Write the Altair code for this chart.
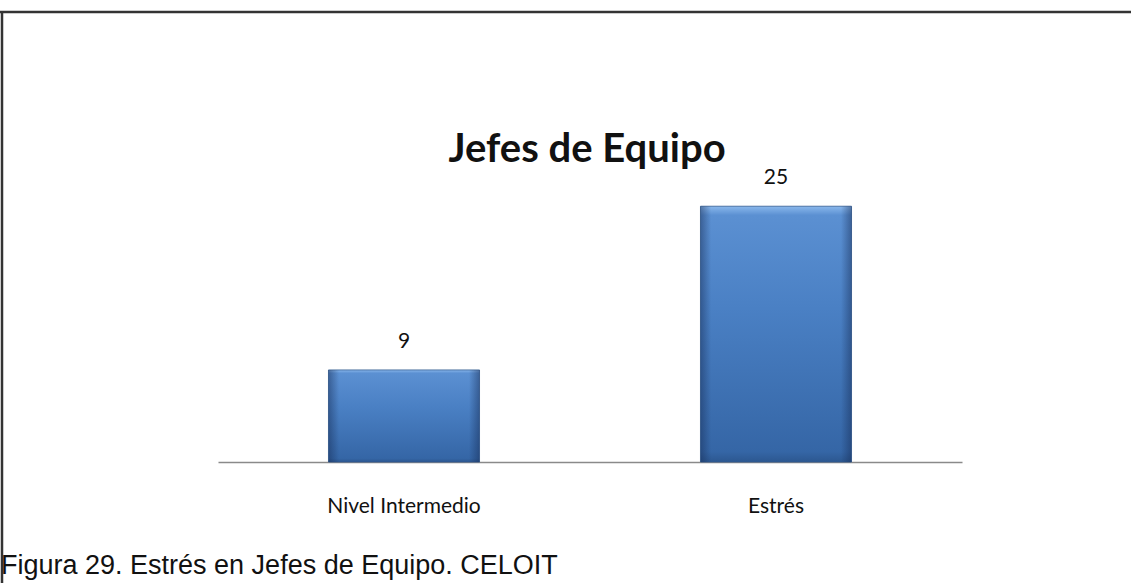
import altair as alt
import pandas as pd

categories = ["Nivel Intermedio", "Estrés"]
values = [9, 25]
title_text = "Jefes de Equipo"
caption_text = "Figura 29. Estrés en Jefes de Equipo. CELOIT"

df = pd.DataFrame({"cat": categories, "val": values})

W, H = 744, 266
PL, PT, PR, PB = 218, 196, 1131 - 218 - 744, 583 - 196 - 266

x = alt.X("cat:N", sort=categories, title=None,
          scale=alt.Scale(paddingInner=0.594, paddingOuter=0.297),
          axis=alt.Axis(labelAngle=0, ticks=False, labelPadding=33,
                        labelFont="Lato", labelFontSize=21, labelColor="#111",
                        domainColor="#8a8a8a", domainWidth=1.5, grid=False))
y = alt.Y("val:Q", title=None, scale=alt.Scale(domain=[0, 26], nice=False),
          axis=None)

vgrad = alt.Gradient(gradient="linear", x1=0, x2=0, y1=0, y2=1, stops=[
    alt.GradientStop(offset=0, color="#8ab8ec"),
    alt.GradientStop(offset=0.035, color="#5b90d2"),
    alt.GradientStop(offset=0.4, color="#4a80c4"),
    alt.GradientStop(offset=0.96, color="#3566a6"),
    alt.GradientStop(offset=1, color="#2c5790"),
])
hgrad = alt.Gradient(gradient="linear", x1=0, x2=1, y1=0, y2=0, stops=[
    alt.GradientStop(offset=0, color="rgba(20,40,80,0.45)"),
    alt.GradientStop(offset=0.07, color="rgba(20,40,80,0)"),
    alt.GradientStop(offset=0.93, color="rgba(20,40,80,0)"),
    alt.GradientStop(offset=1, color="rgba(20,40,80,0.45)"),
])

base = alt.Chart(df)
bars = base.mark_bar(color=vgrad, stroke="#30598f", strokeWidth=0.8).encode(x=x, y=y)
shade = base.mark_bar(color=hgrad).encode(x=x, y=y)
labels = base.mark_text(dy=-22, font="Lato", fontSize=21, color="#111",
                        baseline="alphabetic").encode(x=x, y=y, text="val:Q")

title = alt.Chart(pd.DataFrame({"t": [title_text]})).mark_text(
    align="center", baseline="middle", font="Lato", fontSize=40,
    fontWeight="bold", color="#111").encode(
    x=alt.value(W / 2 - 3), y=alt.value(150 - PT), text="t:N")

caption = alt.Chart(pd.DataFrame({"t": [caption_text]})).mark_text(
    align="left", baseline="middle", font="Liberation Sans", fontSize=27,
    color="#111").encode(x=alt.value(-PL + 1), y=alt.value(566 - PT), text="t:N")

top_rule = alt.Chart(pd.DataFrame({"a": [0]})).mark_rule(
    color="#333", strokeWidth=2.5).encode(
    x=alt.value(-PL), x2=alt.value(W + PR), y=alt.value(-PT + 12))
left_rule = alt.Chart(pd.DataFrame({"a": [0]})).mark_rule(
    color="#333", strokeWidth=2.5).encode(
    x=alt.value(-PL + 2), y=alt.value(-PT + 11), y2=alt.value(H + PB))

chart = alt.layer(bars, shade, labels, title, caption, top_rule, left_rule).properties(
    width=W, height=H,
    padding={"left": PL, "top": PT, "right": PR, "bottom": PB},
    autosize=alt.AutoSizeParams(type="none"),
    background="white",
).configure_view(stroke=None)

chart.save("out.html", embed_options={"renderer": "svg", "actions": False})
